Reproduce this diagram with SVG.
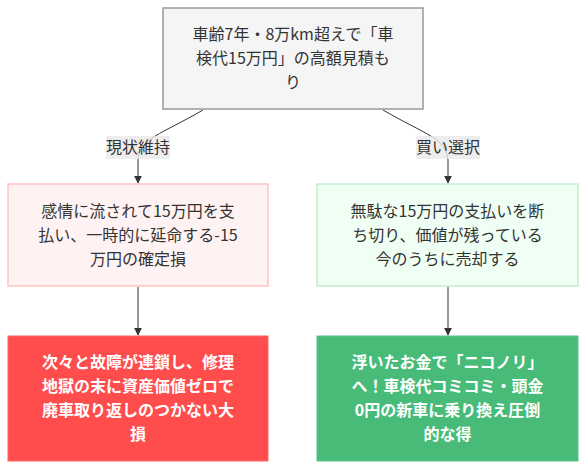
<svg xmlns="http://www.w3.org/2000/svg" width="586" height="470" viewBox="0 0 586 470">
<defs>
<marker id="arr" viewBox="0 0 10 10" refX="9" refY="5" markerWidth="8" markerHeight="8" orient="auto" markerUnits="userSpaceOnUse">
<path d="M0,0 L10,5 L0,10 z" fill="#333"/>
</marker>
</defs>
<style>
text{font-family:"Noto Sans CJK JP","Liberation Sans",sans-serif;font-size:16px;text-anchor:middle}
.t{fill:#333}
.w{fill:#fff;font-weight:bold}
.e{fill:none;stroke:#333;stroke-width:1;marker-end:url(#arr)}
.lb{fill:#e8e8e8;opacity:0.8}
</style>
<rect width="586" height="470" fill="#fff"/>
<g id="edges">
<path class="e" d="M203,110 C160,135 140,138 138,160 L138,183"/>
<path class="e" d="M383,110 C426,135 446,138 448,160 L448,183"/>
<path class="e" d="M138,287 L138,335"/>
<path class="e" d="M448,287 L448,335"/>
<g id="label1"><rect class="lb" x="106" y="136" width="64" height="23"/><text class="t" x="138" y="153">現状維持</text></g>
<g id="label2"><rect class="lb" x="416" y="136" width="64" height="23"/><text class="t" x="448" y="153">買い選択</text></g>
</g>
<g id="start">
<rect x="163" y="8" width="260" height="101" fill="#f5f5f5" stroke="#999" stroke-width="1.5"/>
<text class="t" x="293" y="40">車齢7年・8万km超えで「車</text>
<text class="t" x="293" y="64">検代15万円」の高額見積も</text>
<text class="t" x="293" y="88">り</text>
</g>
<g id="keep">
<rect x="8" y="184" width="260" height="102" fill="#fff2f2" stroke="#ffc2c2" stroke-width="1.5"/>
<text class="t" x="138" y="217">感情に流されて15万円を支</text>
<text class="t" x="138" y="241">払い、一時的に延命する-15</text>
<text class="t" x="138" y="265">万円の確定損</text>
</g>
<g id="buy">
<rect x="317" y="184" width="261" height="102" fill="#f0fff4" stroke="#c2edd0" stroke-width="1.5"/>
<text class="t" x="447.5" y="217">無駄な15万円の支払いを断</text>
<text class="t" x="447.5" y="241">ち切り、価値が残っている</text>
<text class="t" x="447.5" y="265">今のうちに売却する</text>
</g>
<g id="bad">
<rect x="8" y="336" width="260" height="125" fill="#ff4d4d" stroke="#ff6666" stroke-width="1"/>
<text class="w" x="138" y="368">次々と故障が連鎖し、修理</text>
<text class="w" x="138" y="392">地獄の末に資産価値ゼロで</text>
<text class="w" x="138" y="416">廃車取り返しのつかない大</text>
<text class="w" x="138" y="440">損</text>
</g>
<g id="good">
<rect x="317" y="336" width="261" height="125" fill="#48bb78" stroke="#5cc488" stroke-width="1"/>
<text class="w" x="447.5" y="368">浮いたお金で「ニコノリ」</text>
<text class="w" x="447.5" y="392">へ！車検代コミコミ・頭金</text>
<text class="w" x="447.5" y="416">0円の新車に乗り換え圧倒</text>
<text class="w" x="447.5" y="440">的な得</text>
</g>
</svg>
